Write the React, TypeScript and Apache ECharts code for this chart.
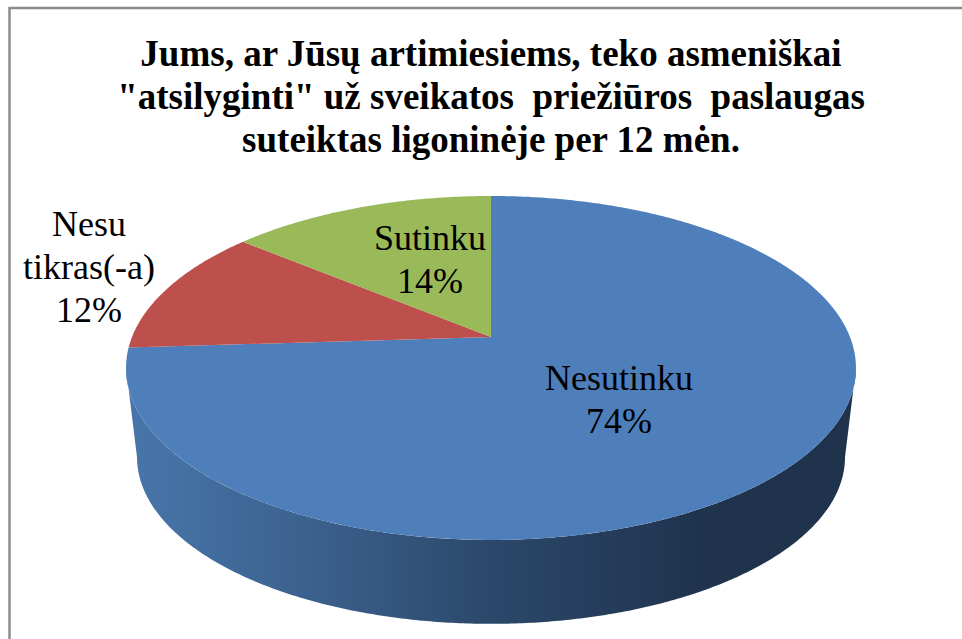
import React, { useEffect, useRef } from "react";
import * as echarts from "echarts";

const titleLines = [
  "Jums, ar Jūsų artimiesiems, teko asmeniškai",
  '"atsilyginti" už sveikatos  priežiūros  paslaugas',
  "suteiktas ligoninėje per 12 mėn.",
];
const categories = ["Nesutinku", "Nesu\ntikras(-a)", "Sutinku"];
const values = [74, 12, 14];
const sliceColors = ["#4e7fbb", "#bd4f4c", "#9aba59"];
const labelAnchors = [
  [619, 399],
  [89, 267],
  [430, 259],
];

// Perspective projection of the pie's circular faces.
const APEX_X = 491;
const APEX_Y = 337;
const RX = 359;
const RY = 166.4;
const PERSPECTIVE = 0.18;
const DEPTH_SCALE = 0.97;
const BOTTOM_APEX_Y = 427;
const WALL_FROM = 100.4;
const WALL_TO = 259.6;

const project = (deg: number, apexY: number, scale: number) => {
  const a = (deg * Math.PI) / 180;
  const X = Math.sin(a);
  const Y = Math.cos(a);
  const d = 1 + PERSPECTIVE * Y;
  return [APEX_X + (scale * RX * X) / d, apexY - (scale * RY * Y) / d];
};

const arcPoints = (from: number, to: number, apexY: number, scale: number) => {
  const n = Math.max(2, Math.ceil(Math.abs(to - from) * 2));
  const pts: number[][] = [];
  for (let i = 0; i <= n; i++) pts.push(project(from + ((to - from) * i) / n, apexY, scale));
  return pts;
};

export default function App() {
  const ref = useRef<HTMLDivElement>(null);
  useEffect(() => {
    const chart = echarts.init(ref.current!, null, { renderer: "svg" });
    const total = values.reduce((s, v) => s + v, 0);
    const wallGradient = new echarts.graphic.LinearGradient(0, 0, 1, 0, [
      { offset: 0, color: "#4876ab" },
      { offset: 0.24, color: "#3c628f" },
      { offset: 0.51, color: "#2b4769" },
      { offset: 0.79, color: "#1f334d" },
      { offset: 1, color: "#1f334d" },
    ]);
    chart.setOption({
      animation: false,
      backgroundColor: "#ffffff",
      title: {
        text: titleLines.join("\n"),
        left: 486,
        top: 27,
        textAlign: "center",
        textStyle: {
          fontFamily: "'Liberation Serif'",
          fontWeight: "bold",
          fontSize: 37,
          lineHeight: 43,
          color: "#000000",
        },
      },
      graphic: [
        {
          type: "polyline",
          silent: true,
          shape: { points: [[9.5, 645], [9.5, 8], [970, 8]] },
          style: { fill: "none", stroke: "#8c8c8c", lineWidth: 2.5 },
        },
      ],
      series: [
        {
          type: "custom",
          coordinateSystem: "none",
          clip: false,
          data: values.map((value, i) => ({ name: categories[i], value })),
          renderItem: (params: any, api: any) => {
            const i = params.dataIndex;
            const value = api.value(0);
            const before = values.slice(0, i).reduce((s, v) => s + v, 0);
            const start = (before / total) * 360;
            const end = ((before + value) / total) * 360;
            const children: any[] = [];
            const wa = Math.max(start, WALL_FROM);
            const wb = Math.min(end, WALL_TO);
            if (wb > wa) {
              children.push({
                type: "polygon",
                shape: {
                  points: [
                    ...arcPoints(wa, wb, APEX_Y, 1),
                    ...arcPoints(wb, wa, BOTTOM_APEX_Y, DEPTH_SCALE),
                  ],
                },
                style: { fill: wallGradient },
              });
            }
            children.push({
              type: "polygon",
              shape: { points: [[APEX_X, APEX_Y], ...arcPoints(start, end, APEX_Y, 1)] },
              style: { fill: sliceColors[i] },
            });
            children.push({
              type: "text",
              z2: 10,
              style: {
                x: labelAnchors[i][0],
                y: labelAnchors[i][1],
                text: `${categories[i]}\n${Math.round((value / total) * 100)}%`,
                align: "center",
                verticalAlign: "middle",
                fill: "#000000",
                fontFamily: "'Liberation Serif'",
                fontSize: 36,
                lineHeight: 43,
              },
            });
            return { type: "group", children };
          },
        },
      ],
    });
    return () => chart.dispose();
  }, []);
  return (
    <div
      ref={ref}
      style={{ position: "absolute", left: 0, top: 0, width: 962, height: 639 }}
    />
  );
}
